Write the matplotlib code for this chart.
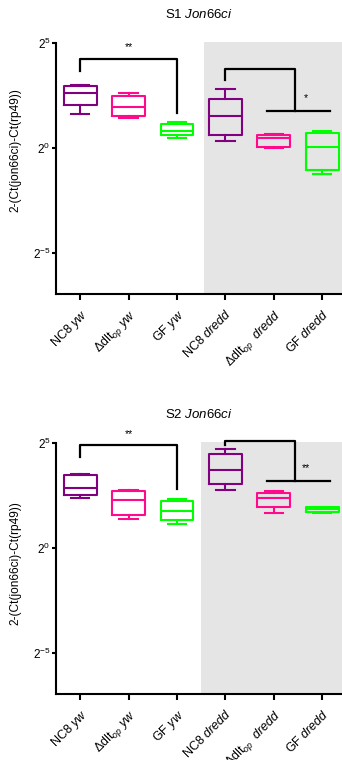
import numpy as np
import matplotlib
matplotlib.use('Agg')
import matplotlib.pyplot as plt
from matplotlib.ticker import FixedLocator, NullLocator, FuncFormatter

plt.rcParams['font.family'] = ['Liberation Sans', 'DejaVu Sans']
plt.rcParams['mathtext.fontset'] = 'custom'
plt.rcParams['mathtext.rm'] = 'Liberation Sans'
plt.rcParams['mathtext.it'] = 'Liberation Sans:italic'

groups = [r'NC8 $\it{yw}$', r'$\Delta$dlt$_{op}$ $\it{yw}$', r'GF $\it{yw}$',
          r'NC8 $\it{dredd}$', r'$\Delta$dlt$_{op}$  $\it{dredd}$', r'GF $\it{dredd}$']
colors = ['#800080', '#ff0a8c', '#00ff00', '#800080', '#ff0a8c', '#00ff00']

# box stats, log2 units: whisker low, q1, median, q3, whisker high
s1_low = [1.63, 1.41, 0.48, 0.33, 0.00, -1.24]
s1_q1 = [2.06, 1.52, 0.60, 0.63, 0.03, -1.05]
s1_med = [2.63, 1.95, 0.81, 1.54, 0.48, 0.03]
s1_q3 = [2.94, 2.48, 1.14, 2.33, 0.63, 0.71]
s1_high = [3.00, 2.62, 1.25, 2.79, 0.65, 0.79]

s2_low = [2.40, 1.37, 1.14, 2.78, 1.68, 1.68]
s2_q1 = [2.52, 1.57, 1.32, 3.03, 1.97, 1.73]
s2_med = [2.87, 2.30, 1.78, 3.71, 2.40, 1.84]
s2_q3 = [3.49, 2.71, 2.22, 4.49, 2.63, 1.95]
s2_high = [3.54, 2.78, 2.35, 4.73, 2.70, 1.97]

# significance brackets (log2 units)
s1_sig_yw = [3.67, 4.24, 1.68]     # left leg, bar, right leg
s1_sig_dredd = [3.24, 3.78, 1.76]  # left leg, bar, lower bar
s2_sig_yw = [4.32, 4.90, 2.81]
s2_sig_dredd = [4.90, 5.11, 3.21]
stars = ['**', '*', '**', '**']


def panel(ax, title, low, q1, med, q3, high, sig_yw, sig_dredd, st, shade_x, label_y):
    ax.set_yscale('log', base=2)
    stats = []
    for i in range(len(groups)):
        stats.append(dict(whislo=2.0 ** low[i], q1=2.0 ** q1[i], med=2.0 ** med[i],
                          q3=2.0 ** q3[i], whishi=2.0 ** high[i], fliers=[]))
    bp = ax.bxp(stats, positions=np.arange(len(groups)), widths=0.68,
                showfliers=False, patch_artist=False, capwidths=0.38)
    for i, c in enumerate(colors):
        bp['boxes'][i].set(color=c, linewidth=1.5)
        bp['medians'][i].set(color=c, linewidth=1.5)
        for w in bp['whiskers'][2 * i:2 * i + 2]:
            w.set(color=c, linewidth=1.5)
        for cp in bp['caps'][2 * i:2 * i + 2]:
            cp.set(color=c, linewidth=1.5)

    ax.axvspan(shade_x, 6, ymin=0.005, ymax=1, color='#e5e5e5', zorder=0, lw=0)

    # brackets
    a, b, c = sig_yw
    ax.plot([0, 0, 2, 2], [2.0 ** a, 2.0 ** b, 2.0 ** b, 2.0 ** c], color='black', lw=1.6, clip_on=False)
    ax.text(1, 2.0 ** (b + 0.55), st[0], ha='center', va='center', fontsize=7.5)
    a, b, c = sig_dredd
    ax.plot([3, 3, 4.44, 4.44], [2.0 ** a, 2.0 ** b, 2.0 ** b, 2.0 ** c], color='black', lw=1.6, clip_on=False)
    ax.plot([3.86, 5.16], [2.0 ** c, 2.0 ** c], color='black', lw=1.6)
    ax.text(4.66, 2.0 ** (c + 0.6), st[1], ha='center', va='center', fontsize=7.5)

    ax.set_xlim(-0.5, 5.41)
    ax.set_ylim(2.0 ** -6.95, 2.0 ** 5.05)
    ax.yaxis.set_major_locator(FixedLocator([2.0 ** -5, 1, 2.0 ** 5]))
    ax.yaxis.set_minor_locator(NullLocator())
    ax.yaxis.set_major_formatter(FuncFormatter(lambda v, p: r'$\mathregular{2^{%d}}$' % round(np.log2(v))))
    ax.set_xticks(np.arange(len(groups)))
    ax.set_xticklabels(groups, rotation=45, ha='right', rotation_mode='anchor', fontsize=9)
    ax.tick_params(axis='x', length=4, width=1.5, pad=5.5)
    ax.tick_params(axis='y', length=3, width=1.5, pad=1, labelsize=8.5)
    for s in ['top', 'right']:
        ax.spines[s].set_visible(False)
    for s in ['left', 'bottom']:
        ax.spines[s].set_linewidth(1.5)
    ax.spines['left'].set_bounds(2.0 ** -6.95, 2.0 ** 5)
    ax.set_ylabel('2-(Ct(jon66ci)-Ct(rp49))', fontsize=8.6)
    ax.yaxis.set_label_coords(-0.122, label_y)
    ax.set_title(title, fontsize=9.5, pad=17)


fig = plt.figure(figsize=(3.42, 7.6), dpi=100)
ax1 = fig.add_axes([56 / 342, 466 / 760, 286 / 342, 252 / 760])
ax2 = fig.add_axes([56 / 342, 66 / 760, 286 / 342, 252 / 760])

panel(ax1, 'S1 $\\it{Jon66ci}$', s1_low, s1_q1, s1_med, s1_q3, s1_high,
      s1_sig_yw, s1_sig_dredd, stars[:2], 2.55, 0.571)
panel(ax2, 'S2 $\\it{Jon66ci}$', s2_low, s2_q1, s2_med, s2_q3, s2_high,
      s2_sig_yw, s2_sig_dredd, stars[2:], 2.5, 0.52)

fig.savefig('out.png', dpi=100)
